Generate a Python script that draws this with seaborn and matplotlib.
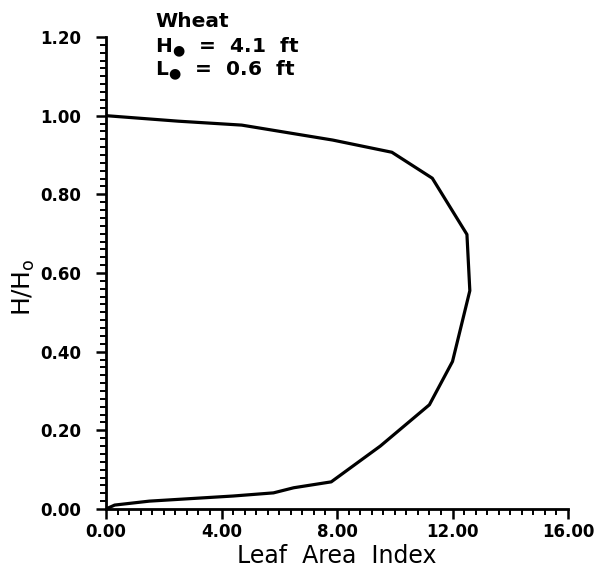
import matplotlib
matplotlib.use("Agg")
import matplotlib.pyplot as plt
from matplotlib.ticker import MultipleLocator, FormatStrFormatter
import seaborn as sns
import pandas as pd

# Data
leaf_area_index = [0.0, 0.3, 1.5, 4.4, 5.8, 6.5, 7.8, 9.5, 11.2, 12.0, 12.6, 12.5, 11.3, 9.9, 7.85, 4.7, 2.5, 0.0]
height_ratio = [0.0, 0.01, 0.02, 0.033, 0.041, 0.054, 0.069, 0.16, 0.265, 0.375, 0.555, 0.698, 0.841, 0.907, 0.938, 0.976, 0.986, 1.0]
x_ticks = [0, 4, 8, 12, 16]
y_ticks = [0.0, 0.2, 0.4, 0.6, 0.8, 1.0, 1.2]
annotation_lines = ["Wheat", "H$_{●}$  =  4.1  ft", "L$_{●}$  =  0.6  ft"]

df = pd.DataFrame({"lai": leaf_area_index, "h": height_ratio})

sns.set_theme(style="ticks")
plt.rcParams["font.family"] = ["DejaVu Sans"]
plt.rcParams["mathtext.fontset"] = "dejavusans"

fig = plt.figure(figsize=(6.05, 5.72), dpi=100)
ax = fig.add_axes([106 / 605, 1 - 509 / 572, (568 - 106) / 605, (509 - 37) / 572])

sns.lineplot(data=df, x="lai", y="h", sort=False, estimator=None, color="black",
             linewidth=2.3, ax=ax)

ax.set_xlim(0, 16)
ax.set_ylim(0, 1.2)
ax.set_xticks(x_ticks)
ax.set_yticks(y_ticks)
ax.xaxis.set_major_formatter(FormatStrFormatter("%.2f"))
ax.yaxis.set_major_formatter(FormatStrFormatter("%.2f"))
ax.xaxis.set_minor_locator(MultipleLocator(0.4))
ax.yaxis.set_minor_locator(MultipleLocator(0.02))
ax.tick_params(axis="both", which="major", direction="out", length=7, width=1.8,
               labelsize=12, colors="black")
ax.tick_params(axis="x", which="major", pad=3)
ax.tick_params(axis="y", which="major", pad=11)
ax.tick_params(axis="both", which="minor", direction="out", length=4, width=1.4, colors="black")
for lab in ax.get_xticklabels() + ax.get_yticklabels():
    lab.set_fontweight("bold")

sns.despine(ax=ax)
for s in ["left", "bottom"]:
    ax.spines[s].set_linewidth(2.0)
    ax.spines[s].set_color("black")

ax.set_xlabel("")
ax.set_ylabel("")
fig.text(337 / 605, 1 - 563 / 572, "Leaf  Area  Index", ha="center", va="baseline",
         fontsize=17, color="black")
fig.text(24 / 605, 1 - 287 / 572, "H/H$_{\\mathregular{o}}$", ha="center", va="center",
         rotation=90, fontsize=18, color="black")

baselines = [27, 52, 75]
for txt, b in zip(annotation_lines, baselines):
    fig.text(155 / 605, 1 - b / 572, txt, ha="left", va="baseline", fontsize=14.5,
             fontweight="bold", color="black")

fig.savefig("out.png", dpi=100, facecolor="white")
